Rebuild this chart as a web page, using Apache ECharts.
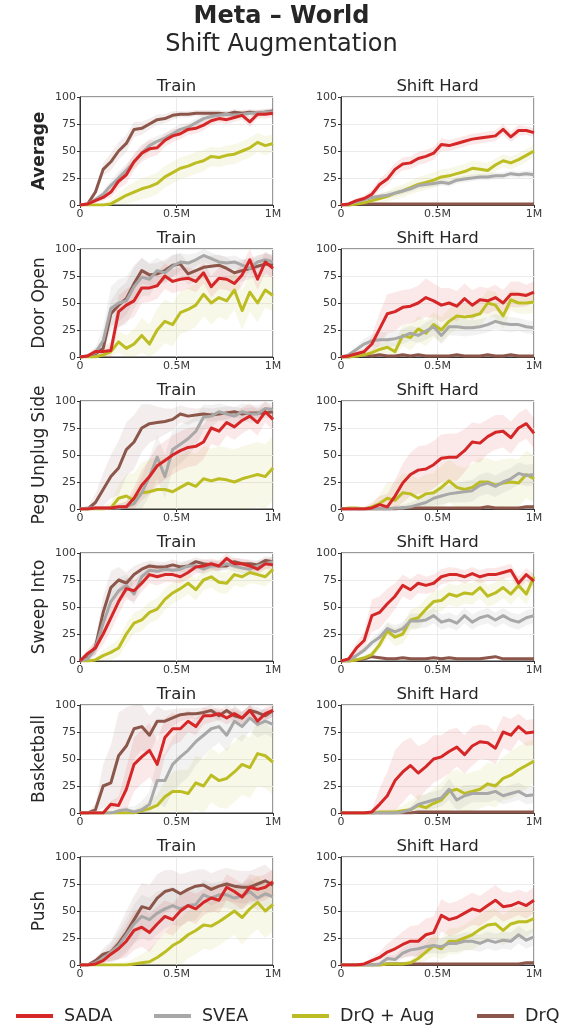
<!DOCTYPE html>
<html>
<head>
<meta charset="utf-8">
<title>Meta-World Shift Augmentation</title>
<script src="https://cdn.jsdelivr.net/npm/echarts@6/dist/echarts.min.js"></script>
<style>
  html, body { margin: 0; padding: 0; background: #fff; }
  #main { width: 563px; height: 1027px; }
</style>
</head>
<body>
<div id="main"></div>
<script>
// 训练步数 (M)
const steps = [0, 0.04, 0.08, 0.12, 0.16, 0.2, 0.24, 0.28, 0.32, 0.36, 0.4, 0.44, 0.48, 0.52, 0.56, 0.6, 0.64, 0.68, 0.72, 0.76, 0.8, 0.84, 0.88, 0.92, 0.96, 1];
const methods = ["SADA", "SVEA", "DrQ + Aug", "DrQ"];
const rowNames = ["Average", "Door Open", "Peg Unplug Side", "Sweep Into", "Basketball", "Push"];
const colTitles = ["Train", "Shift Hard"];
const xTicks = ["0", "0.5M", "1M"];

// Average
const avgTrainSada = [0,1,4,7,12,22,28,40,48,52,53,60,64,66,70,71,74,78,80,79,81,83,77,84,84,85];
const avgTrainSvea = [0,1,5,10,18,25,32,40,48,55,59,62,66,70,72,76,80,82,83,84,83,84,85,85,86,86];
const avgTrainDrqAug = [0,0,0,0,1,5,9,12,15,17,20,26,30,34,36,39,41,45,44,46,47,50,53,58,55,57];
const avgTrainDrq = [0,1,12,33,40,50,57,70,71,75,79,80,83,84,84,85,85,85,85,84,86,85,86,85,86,87];
const avgTrainSadaSd = [0,1,2,3,5,7,8,8,8,8,7,6,6,5,5,5,5,4,4,4,4,4,5,4,4,4];
const avgTrainSveaSd = [0,1,2,4,5,6,6,6,6,6,5,5,5,5,4,4,4,3,3,3,3,3,3,3,3,3];
const avgTrainDrqAugSd = [0,0,1,2,4,6,8,9,10,10,10,10,10,10,10,10,10,9,9,9,9,9,9,9,9,8];
const avgTrainDrqSd = [0,1,3,6,8,8,8,7,6,5,5,4,4,3,3,3,3,3,3,3,3,3,3,3,3,3];

const avgShiftSada = [0,1,4,6,10,19,24,33,38,39,43,45,48,56,55,57,59,61,62,63,64,70,63,69,69,67];
const avgShiftSvea = [0,1,3,5,7,8,9,11,13,15,18,19,20,21,20,23,24,25,26,26,27,27,29,28,29,28];
const avgShiftDrqAug = [0,0,1,2,4,6,8,11,13,16,19,21,23,26,27,29,31,34,33,32,37,41,39,42,46,50];
const avgShiftDrq = [0,0,1,1,1,1,1,1,1,1,1,1,1,1,1,1,1,1,1,1,1,1,1,1,1,1];
const avgShiftSadaSd = [0,1,2,3,4,5,6,6,6,6,6,6,6,6,5,5,5,5,5,5,5,5,5,5,4,4];
const avgShiftSveaSd = [0,1,1,2,2,3,3,3,3,3,3,3,3,3,3,3,3,3,3,3,3,3,3,3,3,3];
const avgShiftDrqAugSd = [0,0,1,2,3,4,5,6,6,6,7,7,7,7,7,7,7,7,7,7,6,6,6,6,6,5];
const avgShiftDrqSd = [0,0,1,1,1,1,1,1,1,1,1,1,1,1,1,1,1,1,1,1,1,1,1,1,1,1];

// Door Open
const doorTrainSada = [0,1,5,5,6,42,48,52,64,64,66,75,70,72,73,70,78,65,73,72,68,76,90,72,88,82];
const doorTrainSvea = [0,1,4,15,45,50,52,65,74,72,80,78,84,88,87,90,94,91,88,87,88,85,82,88,90,88];
const doorTrainDrqAug = [0,0,0,2,5,14,8,12,20,12,25,33,30,41,44,48,58,50,55,52,62,43,60,50,62,57];
const doorTrainDrq = [0,1,3,8,40,48,54,68,80,76,77,80,85,86,77,80,83,84,85,82,78,80,82,84,86,85];
const doorTrainSadaSd = [0,1,3,5,8,15,15,15,14,13,12,12,11,11,10,10,10,10,10,10,10,10,10,10,10,10];
const doorTrainSveaSd = [0,2,5,12,20,22,22,20,18,15,12,10,10,8,8,6,6,6,6,6,6,6,6,6,6,6];
const doorTrainDrqAugSd = [0,0,1,3,6,10,12,14,16,18,20,20,20,20,20,20,20,20,18,18,18,18,18,18,16,15];
const doorTrainDrqSd = [0,1,3,6,12,15,15,15,12,10,10,10,10,10,10,10,10,10,10,10,10,10,10,10,10,10];

const doorShiftSada = [0,1,3,5,12,26,40,42,46,47,50,55,52,48,50,47,54,48,53,52,55,50,58,58,57,60];
const doorShiftSvea = [0,2,7,12,15,16,16,17,19,22,20,24,28,20,28,28,27,27,28,30,33,31,30,30,28,27];
const doorShiftDrqAug = [0,0,1,2,4,7,9,5,20,18,26,22,30,25,33,38,37,38,40,50,48,38,53,50,50,51];
const doorShiftDrq = [0,0,1,2,1,2,1,1,2,1,2,1,1,1,1,2,1,1,1,2,1,1,2,1,1,1];
const doorShiftSadaSd = [0,1,2,3,8,15,18,18,16,16,16,18,16,16,14,14,14,14,12,12,12,12,12,12,10,10];
const doorShiftSveaSd = [0,1,3,5,6,7,7,7,7,7,7,8,8,8,8,8,8,7,7,7,7,7,7,6,6,6];
const doorShiftDrqAugSd = [0,0,1,2,3,5,6,8,10,12,12,12,12,12,12,12,12,12,12,12,12,12,10,10,10,10];
const doorShiftDrqSd = [0,0,1,1,1,1,1,1,1,1,1,1,1,1,1,1,1,1,1,1,1,1,1,1,1,1];

// Peg Unplug Side
const pegTrainSada = [0,0,1,1,1,2,2,10,22,30,40,45,50,54,57,58,62,75,72,80,76,82,86,80,90,83];
const pegTrainSvea = [0,1,1,1,1,1,2,5,15,30,48,30,55,60,65,72,85,86,90,88,86,90,88,88,93,92];
const pegTrainDrqAug = [0,0,0,0,1,10,12,8,15,16,18,18,16,20,24,21,28,26,28,27,25,28,30,32,30,38];
const pegTrainDrq = [0,0,6,18,30,38,55,62,75,79,80,81,83,88,86,87,88,87,88,89,90,88,89,89,89,90];
const pegTrainSadaSd = [0,1,1,1,2,3,5,10,14,16,18,18,18,18,18,18,16,15,14,12,12,12,12,12,10,10];
const pegTrainSveaSd = [0,1,1,1,2,3,5,10,15,18,20,20,18,18,16,14,12,10,8,8,8,8,8,8,6,6];
const pegTrainDrqAugSd = [0,1,2,3,5,12,20,25,28,30,30,30,30,30,30,30,30,30,30,30,30,30,30,30,30,30];
const pegTrainDrqSd = [0,2,8,15,20,25,25,25,22,18,15,12,10,8,8,6,6,6,6,6,5,5,5,5,5,5];

const pegShiftSada = [0,0,0,0,1,4,2,12,24,32,36,37,41,47,48,48,54,62,61,67,71,72,66,75,79,70];
const pegShiftSvea = [0,0,0,0,0,0,0,1,1,2,4,6,10,12,14,15,16,17,22,24,21,25,28,33,31,32];
const pegShiftDrqAug = [0,1,1,0,2,5,10,8,15,14,10,14,15,20,26,20,18,20,25,25,22,24,25,24,32,28];
const pegShiftDrq = [0,0,0,0,0,0,0,0,1,1,1,1,1,1,1,1,1,1,1,2,1,1,1,1,2,2];
const pegShiftSadaSd = [0,1,1,2,5,8,12,15,18,20,22,22,22,22,22,22,20,18,18,16,16,15,15,14,14,14];
const pegShiftSveaSd = [0,0,0,0,1,1,1,2,3,4,5,6,7,8,8,9,10,10,10,10,10,10,10,10,10,10];
const pegShiftDrqAugSd = [0,1,1,1,2,8,15,16,18,18,18,18,18,20,20,20,20,22,22,22,22,22,22,22,22,22];
const pegShiftDrqSd = [0,0,0,0,0,0,0,0,1,1,1,1,1,1,1,1,1,1,1,1,1,1,1,1,1,1];

// Sweep Into
const sweepTrainSada = [0,7,12,25,40,55,67,65,72,80,78,80,80,78,82,87,88,90,88,95,90,90,88,85,90,89];
const sweepTrainSvea = [0,2,12,35,55,65,70,62,78,84,83,85,84,85,88,88,85,88,88,90,88,86,85,88,90,92];
const sweepTrainDrqAug = [0,0,1,5,8,12,25,35,38,45,48,57,63,67,72,66,75,78,73,72,80,78,82,80,78,85];
const sweepTrainDrq = [0,3,13,45,68,75,72,80,85,88,87,87,89,87,88,92,90,89,88,88,92,90,90,89,93,92];
const sweepTrainSadaSd = [0,4,6,10,12,12,10,10,8,8,8,7,7,6,6,6,6,5,5,5,5,5,5,5,5,5];
const sweepTrainSveaSd = [0,3,6,10,12,12,10,10,8,7,6,5,5,5,5,5,5,5,5,5,5,5,5,5,5,5];
const sweepTrainDrqAugSd = [0,1,2,5,7,8,10,10,10,10,10,10,10,10,10,10,10,10,10,10,10,10,10,9,9,9];
const sweepTrainDrqSd = [0,4,8,15,15,12,10,8,6,5,5,5,5,5,5,4,4,4,4,4,4,4,4,4,4,4];

const sweepShiftSada = [0,2,12,19,42,45,53,60,70,66,72,70,72,78,80,80,78,81,78,80,80,82,84,72,80,74];
const sweepShiftSvea = [0,1,5,10,17,22,30,27,30,37,37,38,42,36,38,35,42,36,40,42,38,42,38,36,40,42];
const sweepShiftDrqAug = [0,0,1,3,6,15,28,22,25,38,40,48,55,56,62,60,63,62,68,60,63,68,62,70,62,78];
const sweepShiftDrq = [0,0,1,2,4,3,2,2,3,2,2,2,3,2,3,2,2,2,2,3,4,2,2,2,2,2];
const sweepShiftSadaSd = [0,2,5,8,15,15,14,12,10,10,9,8,8,7,7,6,6,6,6,6,6,6,6,6,6,6];
const sweepShiftSveaSd = [0,1,2,3,4,5,6,6,6,7,7,7,7,7,7,7,7,7,7,7,7,7,7,7,7,7];
const sweepShiftDrqAugSd = [0,0,1,2,3,5,7,8,9,10,10,10,10,10,10,10,10,10,10,10,10,10,10,10,10,10];
const sweepShiftDrqSd = [0,0,1,1,1,1,1,1,1,1,1,1,1,1,1,1,1,1,1,1,1,1,1,1,1,1];

// Basketball
const basketTrainSada = [0,0,0,0,8,7,22,45,52,58,45,70,78,78,85,80,90,90,92,88,92,88,95,85,92,95];
const basketTrainSvea = [0,0,0,0,0,2,3,1,3,8,30,30,45,52,58,66,72,78,80,72,85,80,88,82,85,82];
const basketTrainDrqAug = [0,0,0,0,0,0,0,0,2,4,7,15,20,20,18,28,25,35,30,32,38,45,42,55,53,47];
const basketTrainDrq = [0,0,3,25,28,53,62,78,80,72,85,85,88,91,92,92,93,95,90,95,90,88,95,93,90,95];
const basketTrainSadaSd = [0,0,0,1,3,8,20,25,25,25,22,18,15,12,10,8,8,6,6,6,6,6,6,6,6,6];
const basketTrainSveaSd = [0,0,0,0,1,2,3,5,8,12,20,25,25,25,25,22,20,18,15,15,15,14,12,12,12,12];
const basketTrainDrqAugSd = [0,0,0,0,1,1,2,3,5,8,10,15,18,20,22,25,25,25,25,28,28,28,28,30,30,30];
const basketTrainDrqSd = [0,1,5,20,35,40,36,28,22,18,14,10,8,6,5,5,5,5,5,5,5,5,5,5,5,5];

const basketShiftSada = [0,0,0,0,1,8,16,30,38,44,37,43,50,52,57,61,54,62,66,65,60,75,72,80,74,75];
const basketShiftSvea = [0,0,0,0,0,0,0,0,1,3,8,10,12,14,22,12,16,18,18,18,20,16,18,20,16,17];
const basketShiftDrqAug = [0,0,0,0,0,1,1,1,2,3,7,5,9,12,20,22,18,20,22,27,25,32,35,40,44,48];
const basketShiftDrq = [0,0,0,0,0,0,0,0,0,0,1,1,1,1,1,1,1,1,1,1,1,1,1,1,1,1];
const basketShiftSadaSd = [0,0,0,0,2,15,22,28,28,26,25,22,22,20,20,18,18,18,16,16,15,15,15,12,12,12];
const basketShiftSveaSd = [0,0,0,0,0,0,0,0,1,3,6,8,8,8,10,10,10,8,8,8,8,8,8,8,8,8];
const basketShiftDrqAugSd = [0,0,0,0,0,1,2,3,5,8,10,12,14,16,18,18,18,18,18,20,20,20,22,22,22,20];
const basketShiftDrqSd = [0,0,0,0,0,0,0,0,0,0,1,1,1,1,1,1,1,1,1,1,1,1,1,1,1,1];

// Push
const pushTrainSada = [0,0,1,4,10,15,22,32,35,30,38,45,42,50,55,52,58,62,60,72,68,63,72,70,72,77];
const pushTrainSvea = [0,0,2,6,12,18,28,38,45,42,48,52,55,52,55,56,65,62,65,65,62,64,68,62,66,63];
const pushTrainDrqAug = [0,0,0,0,0,0,0,1,2,3,7,12,18,22,28,32,37,36,40,45,50,44,52,58,50,56];
const pushTrainDrq = [0,0,4,10,12,20,30,42,54,52,62,68,70,66,70,73,74,70,73,75,73,72,72,75,78,74];
const pushTrainSadaSd = [0,0,1,3,6,10,15,18,18,18,16,15,15,15,14,14,12,12,12,12,12,12,12,12,12,12];
const pushTrainSveaSd = [0,0,2,5,8,12,15,18,20,20,20,18,18,16,15,14,14,14,12,12,12,12,12,12,12,12];
const pushTrainDrqAugSd = [0,0,0,1,1,2,3,5,8,12,15,18,20,22,22,22,22,22,22,22,22,25,25,25,25,25];
const pushTrainDrqSd = [0,0,2,5,10,15,20,22,22,22,22,20,18,18,16,15,15,15,15,15,15,15,15,15,15,12];

const pushShiftSada = [0,0,0,1,4,7,12,15,19,22,22,28,30,46,42,44,48,52,50,55,60,54,55,58,55,60];
const pushShiftSvea = [0,0,0,0,0,1,6,5,11,14,15,17,18,17,20,20,22,22,20,23,21,23,22,28,23,26];
const pushShiftDrqAug = [0,0,0,0,0,0,1,1,1,2,6,12,18,15,22,22,25,28,33,37,38,32,38,40,40,43];
const pushShiftDrq = [0,0,0,0,0,0,1,1,1,1,1,1,1,1,1,1,1,1,1,1,1,1,1,1,2,2];
const pushShiftSadaSd = [0,0,0,1,3,5,8,10,12,14,15,15,15,15,15,15,15,15,14,14,14,14,12,12,12,12];
const pushShiftSveaSd = [0,0,0,0,0,1,3,4,5,6,6,7,7,7,8,8,8,8,8,8,8,8,8,8,8,8];
const pushShiftDrqAugSd = [0,0,0,0,0,0,1,1,2,3,5,8,10,10,12,12,12,14,14,14,14,14,14,14,14,12];
const pushShiftDrqSd = [0,0,0,0,0,0,1,1,1,1,1,1,1,1,1,1,1,1,1,1,1,1,1,1,1,1];

// 子图列表 (row, col)
const panels = [
	{ row: 0, col: 0, mean: [avgTrainSada, avgTrainSvea, avgTrainDrqAug, avgTrainDrq], sd: [avgTrainSadaSd, avgTrainSveaSd, avgTrainDrqAugSd, avgTrainDrqSd] },
	{ row: 0, col: 1, mean: [avgShiftSada, avgShiftSvea, avgShiftDrqAug, avgShiftDrq], sd: [avgShiftSadaSd, avgShiftSveaSd, avgShiftDrqAugSd, avgShiftDrqSd] },
	{ row: 1, col: 0, mean: [doorTrainSada, doorTrainSvea, doorTrainDrqAug, doorTrainDrq], sd: [doorTrainSadaSd, doorTrainSveaSd, doorTrainDrqAugSd, doorTrainDrqSd] },
	{ row: 1, col: 1, mean: [doorShiftSada, doorShiftSvea, doorShiftDrqAug, doorShiftDrq], sd: [doorShiftSadaSd, doorShiftSveaSd, doorShiftDrqAugSd, doorShiftDrqSd] },
	{ row: 2, col: 0, mean: [pegTrainSada, pegTrainSvea, pegTrainDrqAug, pegTrainDrq], sd: [pegTrainSadaSd, pegTrainSveaSd, pegTrainDrqAugSd, pegTrainDrqSd] },
	{ row: 2, col: 1, mean: [pegShiftSada, pegShiftSvea, pegShiftDrqAug, pegShiftDrq], sd: [pegShiftSadaSd, pegShiftSveaSd, pegShiftDrqAugSd, pegShiftDrqSd] },
	{ row: 3, col: 0, mean: [sweepTrainSada, sweepTrainSvea, sweepTrainDrqAug, sweepTrainDrq], sd: [sweepTrainSadaSd, sweepTrainSveaSd, sweepTrainDrqAugSd, sweepTrainDrqSd] },
	{ row: 3, col: 1, mean: [sweepShiftSada, sweepShiftSvea, sweepShiftDrqAug, sweepShiftDrq], sd: [sweepShiftSadaSd, sweepShiftSveaSd, sweepShiftDrqAugSd, sweepShiftDrqSd] },
	{ row: 4, col: 0, mean: [basketTrainSada, basketTrainSvea, basketTrainDrqAug, basketTrainDrq], sd: [basketTrainSadaSd, basketTrainSveaSd, basketTrainDrqAugSd, basketTrainDrqSd] },
	{ row: 4, col: 1, mean: [basketShiftSada, basketShiftSvea, basketShiftDrqAug, basketShiftDrq], sd: [basketShiftSadaSd, basketShiftSveaSd, basketShiftDrqAugSd, basketShiftDrqSd] },
	{ row: 5, col: 0, mean: [pushTrainSada, pushTrainSvea, pushTrainDrqAug, pushTrainDrq], sd: [pushTrainSadaSd, pushTrainSveaSd, pushTrainDrqAugSd, pushTrainDrqSd] },
	{ row: 5, col: 1, mean: [pushShiftSada, pushShiftSvea, pushShiftDrqAug, pushShiftDrq], sd: [pushShiftSadaSd, pushShiftSveaSd, pushShiftDrqAugSd, pushShiftDrqSd] }
];

const FONT = "DejaVu Sans";
const lineColors = ["#d62728", "#a8a8a8", "#bcbd22", "#8c564b"];
const bandColors = ["rgba(214,39,40,0.10)", "rgba(150,150,150,0.12)", "rgba(188,189,34,0.10)", "rgba(140,86,75,0.10)"];
const drawOrder = [3, 2, 1, 0]; // DrQ 在最下, SADA 在最上
const colLeft = [80, 341];
const plotW = 193, plotH = 108, firstTop = 97, rowGap = 152;

const grids = [], xAxes = [], yAxes = [], series = [], texts = [];

// 阴影带: 用自定义系列画一个多边形 (mean ± sd)
function bandSeries(i, lo, hi, color) {
	return {
		type: "custom", xAxisIndex: i, yAxisIndex: i, silent: true, z: 1,
		data: steps.map((x, j) => [x, lo[j], hi[j]]),
		encode: { x: 0, y: [1, 2] },
		renderItem: (params, api) => {
			if (params.dataIndex !== 0) return null;
			const pts = [];
			for (let j = 0; j < steps.length; j++) pts.push(api.coord([steps[j], hi[j]]));
			for (let j = steps.length - 1; j >= 0; j--) pts.push(api.coord([steps[j], lo[j]]));
			return { type: "polygon", shape: { points: pts }, style: { fill: color } };
		}
	};
}

panels.forEach((p, i) => {
	const left = colLeft[p.col];
	const top = firstTop + p.row * rowGap;
	grids.push({ left: left, top: top, width: plotW, height: plotH, show: true, borderColor: "#333", borderWidth: 1, backgroundColor: "#fff" });
	xAxes.push({
		gridIndex: i, type: "value", min: 0, max: 1, interval: 0.5,
		axisLine: { show: true, lineStyle: { color: "#333", width: 1 } },
		axisTick: { show: true, length: 3, lineStyle: { color: "#333" } },
		axisLabel: { fontSize: 11, color: "#3a3a3a", fontFamily: FONT, margin: 4, formatter: (v) => xTicks[Math.round(v / 0.5)] },
		splitLine: { show: true, lineStyle: { color: "#ebebeb", width: 1 } }
	});
	yAxes.push({
		gridIndex: i, type: "value", min: 0, max: 100, interval: 25,
		axisLine: { show: true, lineStyle: { color: "#333", width: 1 } },
		axisTick: { show: true, length: 3, lineStyle: { color: "#333" } },
		axisLabel: { fontSize: 11, color: "#3a3a3a", fontFamily: FONT, margin: 4 },
		splitLine: { show: true, lineStyle: { color: "#ebebeb", width: 1 } }
	});

	drawOrder.forEach((k) => {
		const m = p.mean[k], s = p.sd[k];
		const lo = m.map((v, j) => Math.max(0, v - s[j]));
		const hi = m.map((v, j) => Math.min(100, v + s[j]));
		series.push(bandSeries(i, lo, hi, bandColors[k]));
	});

	// 均值曲线
	drawOrder.forEach((k) => {
		series.push({
			name: methods[k], type: "line", xAxisIndex: i, yAxisIndex: i, symbol: "none", z: 3,
			lineStyle: { width: 3, color: lineColors[k], join: "round" },
			itemStyle: { color: lineColors[k] },
			data: steps.map((x, j) => [x, p.mean[k][j]])
		});
	});

	// 子图标题
	texts.push({
		type: "text", x: left + plotW / 2, y: top - 10,
		style: { text: colTitles[p.col], font: "16.5px '" + FONT + "'", fill: "#262626", textAlign: "center", textVerticalAlign: "middle" }
	});
	// 行标签
	if (p.col === 0) {
		texts.push({
			type: "text", x: 40, y: top + plotH / 2, rotation: Math.PI / 2,
			style: { text: rowNames[p.row], font: (p.row === 0 ? "bold " : "") + "17px '" + FONT + "'", fill: "#262626", textAlign: "center", textVerticalAlign: "middle" }
		});
	}
});

texts.push({ type: "text", x: 281.5, y: 17, style: { text: "Meta \u2013 World", font: "bold 24px '" + FONT + "'", fill: "#262626", textAlign: "center", textVerticalAlign: "middle" } });
texts.push({ type: "text", x: 281.5, y: 45, style: { text: "Shift Augmentation", font: "24px '" + FONT + "'", fill: "#262626", textAlign: "center", textVerticalAlign: "middle" } });

// 图例: 每项单独定位
const legendLeft = [11, 149, 287, 472];
const legends = methods.map((name, k) => ({
	data: [name], left: legendLeft[k], top: 1002, icon: "rect", itemWidth: 37, itemHeight: 4,
	selectedMode: false,
	textStyle: { fontSize: 17.5, color: "#262626", fontFamily: FONT, padding: [0, 0, 0, 6] }
}));

const chart = echarts.init(document.getElementById("main"), null, { renderer: "canvas" });
chart.setOption({
	animation: false,
	backgroundColor: "#fff",
	textStyle: { fontFamily: FONT },
	grid: grids,
	xAxis: xAxes,
	yAxis: yAxes,
	legend: legends,
	graphic: texts,
	series: series
});
</script>
</body>
</html>
